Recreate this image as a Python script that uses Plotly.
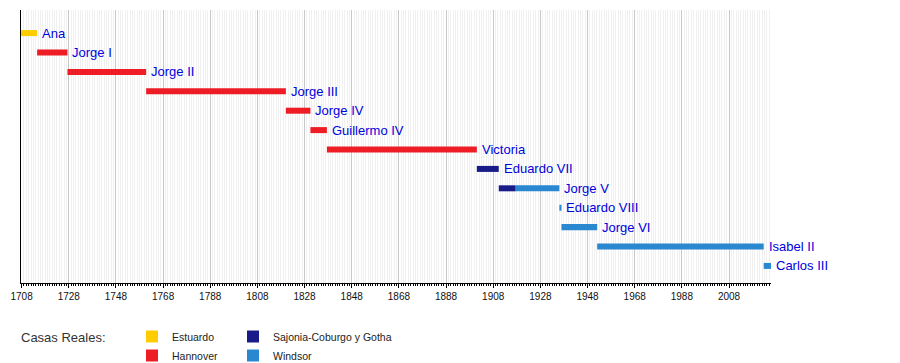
import plotly.graph_objects as go

# Reigns (decimal years) and royal houses
monarchs = ["Ana", "Jorge I", "Jorge II", "Jorge III", "Jorge IV", "Guillermo IV",
            "Victoria", "Eduardo VII", "Jorge V", "Eduardo VIII", "Jorge VI",
            "Isabel II", "Carlos III"]
seg_row = [0, 1, 2, 3, 4, 5, 6, 7, 8, 8, 9, 10, 11, 12]
seg_start = [1707.33, 1714.58, 1727.45, 1760.82, 1820.08, 1830.48, 1837.47,
             1901.06, 1910.35, 1917.54, 1936.05, 1936.95, 1952.10, 2022.70]
seg_end = [1714.58, 1727.45, 1760.82, 1820.08, 1830.48, 1837.47, 1901.06,
           1910.35, 1917.54, 1936.05, 1936.95, 1952.10, 2022.70, 2025.80]
seg_house = ["Estuardo", "Hannover", "Hannover", "Hannover", "Hannover", "Hannover",
             "Hannover", "Sajonia-Coburgo y Gotha", "Sajonia-Coburgo y Gotha",
             "Windsor", "Windsor", "Windsor", "Windsor", "Windsor"]
label_x = [1714.58, 1727.45, 1760.82, 1820.08, 1830.48, 1837.47, 1901.06,
           1910.35, 1936.05, 1936.95, 1952.10, 2022.70, 2025.80]

houses = ["Estuardo", "Hannover", "Sajonia-Coburgo y Gotha", "Windsor"]
house_colors = {"Estuardo": "#FFCC00", "Hannover": "#EE1C25",
                "Sajonia-Coburgo y Gotha": "#191C88", "Windsor": "#2A88D0"}
house_legend = {"Estuardo": "legend", "Hannover": "legend",
                "Sajonia-Coburgo y Gotha": "legend2", "Windsor": "legend2"}

x_start, x_end = 1707.75, 2025.8
major_ticks = list(range(1708, 2009, 20))

REG = "Liberation Sans, Arial, sans-serif"

# plot area in pixels: x 21..771, y 10..283
PL, PR, PT, PB = 21, 771, 10, 283
def px_x(p):
    return (p - PL) / (PR - PL)
def px_y(p):
    return (PB - p) / (PB - PT)

fig = go.Figure()

for h in houses:
    idx = [i for i, hh in enumerate(seg_house) if hh == h]
    fig.add_trace(go.Bar(
        y=[seg_row[i] for i in idx],
        x=[seg_end[i] - seg_start[i] for i in idx],
        base=[seg_start[i] for i in idx],
        orientation="h",
        width=0.31,
        marker=dict(color=house_colors[h], line=dict(width=0)),
        name=h,
        legend=house_legend[h],
        hoverinfo="skip",
    ))

for name, lx, row in zip(monarchs, label_x, range(len(monarchs))):
    fig.add_annotation(x=lx, y=row, xref="x", yref="y", text=name,
                       xanchor="left", yanchor="middle", xshift=3, showarrow=False,
                       font=dict(family=REG, size=13, color="#0000DD"))

fig.add_annotation(text="Casas Reales:", xref="paper", yref="paper",
                   x=px_x(19), y=px_y(337), xanchor="left", yanchor="middle",
                   showarrow=False, font=dict(family=REG, size=13, color="#333"))

fig.update_layout(
    width=900, height=363,
    margin=dict(l=PL, r=900 - PR, t=PT, b=363 - PB, autoexpand=False),
    paper_bgcolor="white", plot_bgcolor="white",
    barmode="overlay",
    font=dict(family=REG, size=10, color="#000"),
    xaxis=dict(
        range=[x_start, x_end],
        tickvals=major_ticks,
        ticktext=[str(t) for t in major_ticks],
        showgrid=True, gridcolor="#c8c8c8", gridwidth=1,
        showline=True, linecolor="black", linewidth=1,
        ticks="outside", ticklen=4, tickcolor="black",
        tickfont=dict(family=REG, size=10, color="#111"),
        zeroline=False,
        minor=dict(dtick=1, tick0=1708, showgrid=True, gridcolor="#f0f0f0",
                   ticks="outside", ticklen=2, tickcolor="black", gridwidth=1),
    ),
    yaxis=dict(
        range=[12.88, -1.19],
        showgrid=False, zeroline=False, showticklabels=False,
        showline=True, linecolor="black", linewidth=1, ticks="",
    ),
    legend=dict(x=px_x(132), y=px_y(322), xanchor="left", yanchor="top",
                font=dict(family=REG, size=10.5, color="#222"),
                bgcolor="rgba(0,0,0,0)", tracegroupgap=0),
    legend2=dict(x=px_x(233), y=px_y(322), xanchor="left", yanchor="top",
                 font=dict(family=REG, size=10.5, color="#222"),
                 bgcolor="rgba(0,0,0,0)", tracegroupgap=0),
)

fig.write_html("out.html",
               config={"displayModeBar": False},
               post_script="document.body.style.margin='0';"
                           "document.body.style.overflow='hidden';")
